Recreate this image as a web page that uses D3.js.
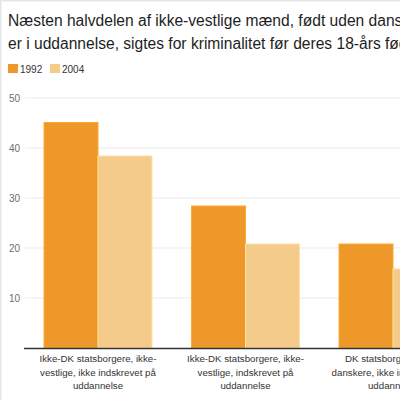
<!DOCTYPE html>
<html>
<head>
<meta charset="utf-8">
<script src="https://cdn.jsdelivr.net/npm/d3@7"></script>
<style>
  html, body { margin: 0; padding: 0; background: #fff; }
  body { width: 400px; height: 400px; overflow: hidden; }
  svg { display: block; font-family: "Liberation Sans", Arial, sans-serif; }
</style>
</head>
<body>
<div id="chart"></div>
<script>
//----------------------------DATA------------------------------//
const titleLines = [
  "Næsten halvdelen af ikke-vestlige mænd, født uden danske forældre, der ikke",
  "er i uddannelse, sigtes for kriminalitet før deres 18-års fødselsdag"
];
const years = ["1992", "2004"];
const categories = [
  ["Ikke-DK statsborgere, ikke-", "vestlige, ikke indskrevet på", "uddannelse"],
  ["Ikke-DK statsborgere, ikke-", "vestlige, indskrevet på", "uddannelse"],
  ["DK statsborgere, ikke-", "danskere, ikke indskrevet på", "uddannelse"]
];
const values1992 = [45.1, 28.4, 20.8];
const values2004 = [38.4, 20.8, 15.8];
const yTicks = [10, 20, 30, 40, 50];

//-------------------------PREPARATION--------------------------//
const width = 400;
const height = 400;
const colors = d3.scaleOrdinal().domain(years).range(["#ee9829", "#f5cb8b"]);

const svg = d3.select("#chart").append("svg")
    .attr("width", width)
    .attr("height", height);

// frame edges (the chart is cropped on the right and bottom)
svg.append("rect")
    .attr("x", 0).attr("y", 0)
    .attr("width", width + 10).attr("height", height + 10)
    .attr("fill", "none")
    .attr("stroke", "#e6e6e6")
    .attr("stroke-width", 3);

// step 147.5 px per group, 39.5 px gap between groups
const xScale = d3.scaleBand()
    .domain(d3.range(categories.length))
    .range([44, 44 + 147.5 * categories.length - 39.5])
    .paddingInner(0.268)
    .paddingOuter(0);

const xSub = d3.scaleBand()
    .domain(years)
    .range([0, xScale.bandwidth()]);

const yScale = d3.scaleLinear().domain([0, 50]).range([348, 98]);

//---------------------------TITLE------------------------------//
svg.append("g").selectAll("text")
    .data(titleLines)
    .enter()
    .append("text")
    .attr("x", 8)
    .attr("y", (d, i) => 26 + i * 23)
    .attr("fill", "#1e1e1e")
    .style("font-size", "15.6px")
    .text(d => d);

//---------------------------LEGEND-----------------------------//
const legend = svg.append("g").selectAll("g")
    .data(years)
    .enter()
    .append("g")
    .attr("transform", (d, i) => "translate(" + (8 + i * 42) + ",64)");

legend.append("rect")
    .attr("width", 10).attr("height", 9)
    .attr("fill", d => colors(d));

legend.append("text")
    .attr("x", 12)
    .attr("y", 8.5)
    .attr("fill", "#333")
    .style("font-size", "10px")
    .text(d => d);

//----------------------------GRID------------------------------//
svg.append("g").selectAll("line")
    .data(yTicks)
    .enter()
    .append("line")
    .attr("x1", 25).attr("x2", width)
    .attr("y1", d => yScale(d)).attr("y2", d => yScale(d))
    .attr("stroke", "#ebebeb")
    .attr("stroke-width", 1);

const yaxis = d3.axisLeft(yScale).tickValues(yTicks).tickSize(0).tickPadding(0);
svg.append("g")
    .attr("transform", "translate(20,0)")
    .call(yaxis)
    .call(g => g.select(".domain").remove())
    .selectAll("text")
    .attr("fill", "#6e6e6e")
    .style("font-size", "10px")
    .style("font-family", "Liberation Sans, Arial, sans-serif");

//----------------------------BARS------------------------------//
const groups = svg.append("g").selectAll("g")
    .data(categories.map((c, i) => ({ i: i, vals: [values1992[i], values2004[i]] })))
    .enter()
    .append("g")
    .attr("transform", d => "translate(" + xScale(d.i) + ",0)");

groups.selectAll("rect")
    .data(d => d.vals.map((v, j) => ({ year: years[j], value: v })))
    .enter()
    .append("rect")
    .attr("x", d => xSub(d.year))
    .attr("y", d => yScale(d.value))
    .attr("width", xSub.bandwidth())
    .attr("height", d => yScale(0) - yScale(d.value))
    .attr("fill", d => colors(d.year))
    .attr("stroke", d => d3.color(colors(d.year)).brighter(0.3))
    .attr("stroke-width", 1);

// baseline
svg.append("line")
    .attr("x1", 24).attr("x2", width)
    .attr("y1", yScale(0) + 0.5).attr("y2", yScale(0) + 0.5)
    .attr("stroke", "#333")
    .attr("stroke-width", 1.5);

//--------------------------X LABELS----------------------------//
const labels = svg.append("g").selectAll("text")
    .data(categories)
    .enter()
    .append("text")
    .attr("text-anchor", "middle")
    .attr("fill", "#333")
    .style("font-size", "9.7px")
    .attr("transform", (d, i) => "translate(" + (xScale(i) + xScale.bandwidth() / 2) + ",0)");

labels.selectAll("tspan")
    .data(d => d)
    .enter()
    .append("tspan")
    .attr("x", 0)
    .attr("y", (d, i) => 362 + i * 13.5)
    .text(d => d);
</script>
</body>
</html>
